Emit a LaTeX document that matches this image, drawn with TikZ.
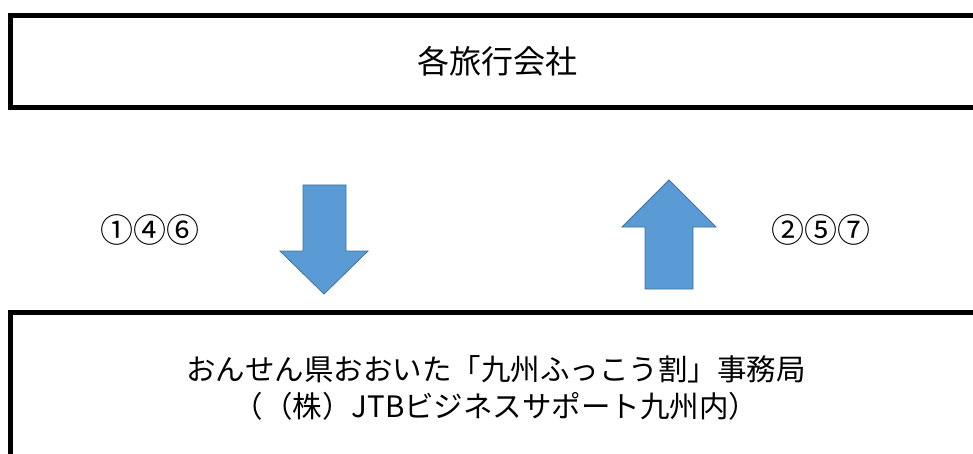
\documentclass[tikz,border=0pt]{standalone}
\usepackage{fontspec}
\newfontfamily\jpfont{Noto Sans CJK JP}
\definecolor{arrowblue}{HTML}{5B9BD5}
\definecolor{arrowedge}{HTML}{41719C}

\begin{document}
\begin{tikzpicture}[x=1pt, y=-1pt, thick, font=\jpfont,
    officebox/.style={draw, black, line width=5pt, minimum width=974pt, inner sep=0pt},
    blockarrow/.style={fill=arrowblue, draw=arrowedge, line width=0.8pt}]

    \useasboundingbox (0,0) rectangle (973,454);
    \clip (0,0) rectangle (973,454);

    \node[officebox, minimum height=92pt, font=\jpfont\fontsize{32}{36}\selectfont] at (497.5,61.5) (agency) {各旅行会社};
    \node[officebox, minimum height=158pt] at (497.5,391) (office) {};
    \node[align=center, font=\jpfont\fontsize{29.5}{37}\selectfont] at (496,388) (officetext)
        {おんせん県おおいた「九州ふっこう割」事務局\\（（株）JTBビジネスサポート九州内）};

% block arrows between the two boxes
    \draw[blockarrow] (303,185) -- (346,185) -- (346,251) -- (368,251) -- (324,294) -- (280,251) -- (303,251) -- cycle;
    \draw[blockarrow] (669,180) -- (716,227) -- (693,227) -- (693,289) -- (645,289) -- (645,227) -- (622,227) -- cycle;

    \node[font=\jpfont\fontsize{33}{36}\selectfont] at (150,230) (down) {①④⑥};
    \node[font=\jpfont\fontsize{33}{36}\selectfont] at (821,230) (up) {②⑤⑦};

\end{tikzpicture}
\end{document}
